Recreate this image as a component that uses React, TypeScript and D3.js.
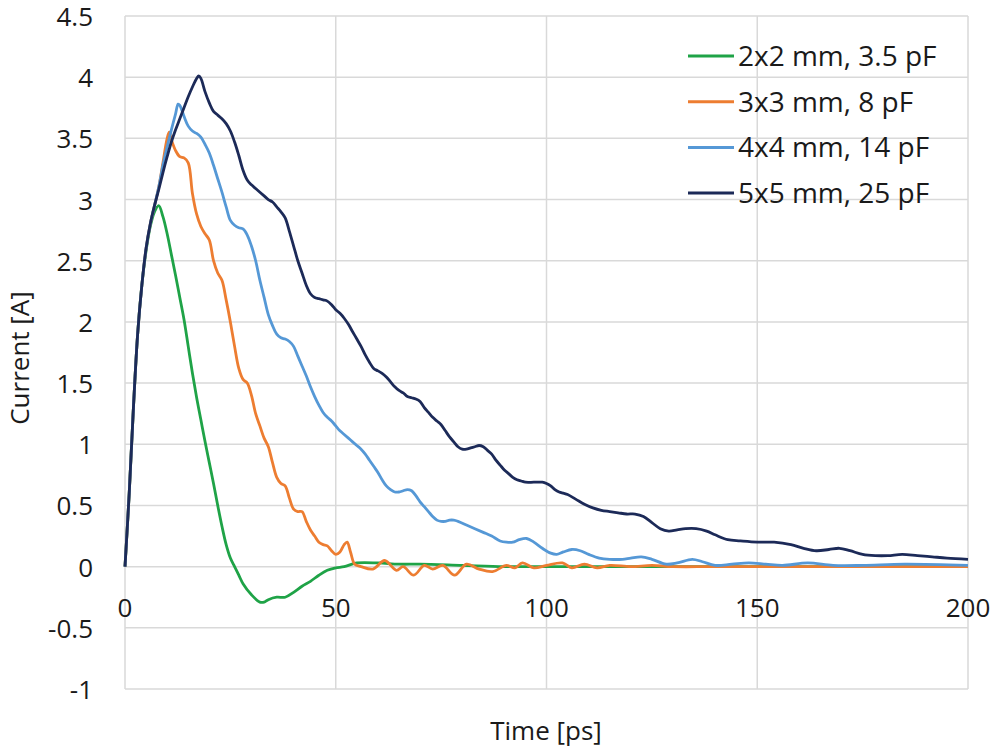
import React from "react";
import * as d3 from "d3";

const WIDTH = 1000;
const HEIGHT = 750;
const PLOT = { left: 125, right: 968, top: 16, bottom: 689 };

const X_TICKS = [0, 50, 100, 150, 200];
const Y_TICKS = [-1, -0.5, 0, 0.5, 1, 1.5, 2, 2.5, 3, 3.5, 4, 4.5];

const SERIES_NAMES = [
  "2x2 mm, 3.5 pF",
  "3x3 mm, 8 pF",
  "4x4 mm, 14 pF",
  "5x5 mm, 25 pF",
];
const SERIES_COLORS = ["#1fa347", "#ed7d31", "#5598d6", "#1c2a58"];

// [time ps, current A]
const green: [number, number][] = [
  [0, 0], [1, 0.6], [2, 1.3], [3, 1.9], [4, 2.3], [5, 2.58], [6, 2.78], [7, 2.9],
  [8, 2.95], [9, 2.86], [10, 2.72], [11, 2.55], [12, 2.38], [13, 2.2], [14, 2.02],
  [15, 1.8], [16, 1.58], [17, 1.38], [18, 1.2], [19, 1.02], [20, 0.85], [21, 0.68],
  [22, 0.5], [23, 0.33], [24, 0.18], [25, 0.07], [26, 0], [27, -0.07], [28, -0.14],
  [30, -0.23], [32, -0.29], [33, -0.29], [34, -0.27], [36, -0.25], [38, -0.25],
  [40, -0.21], [42, -0.16], [44, -0.12], [46, -0.07], [48, -0.03], [50, -0.01],
  [52, 0], [55, 0.03], [60, 0.03], [65, 0.02], [70, 0.02], [80, 0.01], [90, 0],
  [100, 0], [120, 0], [150, 0], [200, 0],
];

const orange: [number, number][] = [
  [0, 0], [1, 0.6], [2, 1.3], [3, 1.9], [4, 2.3], [5, 2.6], [6, 2.8], [7, 2.95],
  [8, 3.1], [9, 3.3], [10, 3.5], [10.5, 3.55], [11, 3.49], [12, 3.4], [13, 3.35],
  [14, 3.34], [15, 3.3], [16, 3.05], [17, 2.88], [18, 2.78], [19, 2.72], [20, 2.67],
  [21, 2.5], [22, 2.4], [23, 2.34], [24, 2.18], [25, 2.0], [26, 1.8], [27, 1.62],
  [28, 1.53], [29, 1.5], [30, 1.4], [31, 1.25], [32, 1.15], [33, 1.05], [34, 0.98],
  [35, 0.85], [36, 0.73], [37, 0.68], [38, 0.66], [39, 0.56], [40, 0.47], [41, 0.45],
  [42, 0.45], [43, 0.37], [44, 0.3], [45, 0.25], [46, 0.2], [47, 0.18], [48, 0.17],
  [49, 0.13], [50, 0.1], [51, 0.12], [52, 0.18], [52.7, 0.2], [53.5, 0.12],
  [54.5, 0.02], [56, 0], [58.8, -0.02], [61.6, 0.05], [64.4, -0.03], [66, 0],
  [68.5, -0.07], [71, 0.01], [73, -0.02], [75.4, 0.01], [78.2, -0.07], [81, 0.02],
  [84, -0.02], [87.2, -0.04], [90.5, 0.01], [92.5, -0.01], [94.3, 0.03], [97, -0.01],
  [100, 0.01], [103.8, 0.03], [106, -0.01], [109, 0.02], [112, -0.01], [115, 0.01],
  [120, 0], [125, 0.01], [130, 0], [140, 0], [170, 0], [200, 0],
];

const blue: [number, number][] = [
  [0, 0], [1, 0.6], [2, 1.3], [3, 1.9], [4, 2.3], [5, 2.6], [6, 2.8], [7, 2.95],
  [8, 3.1], [9, 3.28], [10, 3.43], [11, 3.57], [12, 3.7], [12.6, 3.78], [13, 3.77],
  [14, 3.68], [15, 3.6], [16, 3.56], [17, 3.54], [18, 3.51], [19, 3.45], [20, 3.38],
  [21, 3.28], [22, 3.17], [23, 3.06], [24, 2.94], [25, 2.83], [26, 2.79], [27, 2.77],
  [28, 2.76], [29, 2.71], [30, 2.62], [31, 2.5], [32, 2.34], [33, 2.2], [34, 2.06],
  [35, 1.97], [36, 1.9], [37, 1.87], [38, 1.86], [39, 1.84], [40, 1.8], [41, 1.72],
  [42, 1.64], [43, 1.56], [44, 1.47], [45, 1.39], [46, 1.32], [47, 1.26], [48, 1.22],
  [49, 1.19], [50, 1.15], [51, 1.11], [52, 1.08], [53, 1.05], [54, 1.02], [55, 0.99],
  [56, 0.96], [57, 0.92], [58, 0.87], [59, 0.82], [60, 0.77], [61, 0.71], [62, 0.66],
  [63, 0.63], [64, 0.61], [65, 0.61], [66, 0.62], [67, 0.63], [68, 0.62], [69, 0.58],
  [70, 0.53], [71, 0.49], [72, 0.45], [73, 0.41], [74, 0.38], [75, 0.37], [76, 0.37],
  [77, 0.38], [78, 0.38], [79, 0.37], [81, 0.34], [83, 0.31], [85, 0.28], [87, 0.25],
  [89, 0.21], [90.5, 0.2], [92, 0.2], [93.5, 0.22], [95.3, 0.23], [97, 0.2], [99, 0.15],
  [101, 0.11], [102.4, 0.1], [104, 0.12], [106, 0.14], [108, 0.13], [110, 0.1],
  [112.5, 0.07], [115, 0.06], [118, 0.06], [120, 0.07], [122.5, 0.08], [125, 0.06],
  [128.4, 0.02], [131, 0.03], [134.6, 0.06], [137, 0.04], [140, 0.01], [144, 0.02],
  [148, 0.03], [152, 0.02], [156, 0.01], [162, 0.03], [168, 0.01], [175, 0.01],
  [185, 0.02], [200, 0.01],
];

const navy: [number, number][] = [
  [0, 0], [1, 0.6], [2, 1.3], [3, 1.9], [4, 2.3], [5, 2.6], [6, 2.8], [7, 2.95],
  [8, 3.08], [9, 3.22], [10, 3.35], [11, 3.47], [12, 3.57], [13, 3.66], [14, 3.75],
  [15, 3.84], [16, 3.92], [17, 3.99], [17.5, 4.01], [18, 3.99], [19, 3.88], [20, 3.79],
  [21, 3.72], [22, 3.69], [23, 3.66], [24, 3.62], [25, 3.56], [26, 3.47], [27, 3.36],
  [28, 3.24], [29, 3.16], [30, 3.12], [31, 3.09], [32, 3.06], [33, 3.03], [34, 3.0],
  [35, 2.98], [36, 2.94], [37, 2.9], [38, 2.85], [39, 2.74], [40, 2.62], [41, 2.5],
  [42, 2.4], [43, 2.3], [44, 2.23], [45, 2.2], [46, 2.19], [47, 2.18], [48, 2.17],
  [49, 2.14], [50, 2.1], [51, 2.07], [52, 2.03], [53, 1.98], [54, 1.92], [55, 1.86],
  [56, 1.8], [57, 1.73], [58, 1.67], [59, 1.62], [60, 1.6], [61, 1.58], [62, 1.55],
  [63, 1.51], [64, 1.47], [65, 1.44], [66, 1.42], [67, 1.39], [68, 1.38], [69, 1.37],
  [70, 1.35], [71, 1.3], [72, 1.26], [73, 1.22], [74, 1.19], [75, 1.16], [76, 1.11],
  [77, 1.06], [78, 1.02], [79, 0.98], [80, 0.96], [81, 0.96], [82, 0.97], [83, 0.98],
  [84, 0.99], [85, 0.98], [86, 0.95], [87, 0.92], [88, 0.87], [89, 0.83], [90, 0.79],
  [91, 0.76], [92, 0.73], [93, 0.71], [94, 0.7], [95, 0.69], [97, 0.69], [99, 0.69],
  [100, 0.68], [101, 0.66], [102, 0.63], [103, 0.61], [104, 0.6], [105, 0.59],
  [107, 0.55], [109, 0.51], [111, 0.48], [113, 0.46], [115, 0.45], [117, 0.44],
  [119, 0.43], [121, 0.43], [123, 0.41], [125, 0.36], [127, 0.31], [129, 0.29],
  [131, 0.3], [133, 0.31], [135.5, 0.31], [138, 0.29], [140, 0.26], [143, 0.22],
  [146, 0.21], [150, 0.2], [154, 0.2], [158, 0.18], [161, 0.15], [164, 0.13],
  [167, 0.14], [169.5, 0.15], [172, 0.13], [175, 0.1], [178, 0.09], [181, 0.09],
  [184.4, 0.1], [188, 0.09], [191.5, 0.08], [195, 0.07], [200, 0.06],
];

const SERIES = [green, orange, blue, navy];

const FONT = "'Open Sans', 'Noto Sans', sans-serif";

const App = () => {
  const ref = React.useRef<SVGSVGElement>(null);

  React.useEffect(() => {
    const svg = d3.select(ref.current!);
    svg.selectAll("*").remove();

    const x = d3.scaleLinear().domain([0, 200]).range([PLOT.left, PLOT.right]);
    const y = d3.scaleLinear().domain([-1, 4.5]).range([PLOT.bottom, PLOT.top]);

    const grid = svg.append("g").attr("class", "grid");
    grid
      .selectAll("line.h")
      .data(Y_TICKS)
      .enter()
      .append("line")
      .attr("x1", PLOT.left)
      .attr("x2", PLOT.right)
      .attr("y1", (d) => y(d))
      .attr("y2", (d) => y(d))
      .attr("stroke", "#d9d9d9")
      .attr("stroke-width", 1.5);
    grid
      .selectAll("line.v")
      .data(X_TICKS)
      .enter()
      .append("line")
      .attr("x1", (d) => x(d))
      .attr("x2", (d) => x(d))
      .attr("y1", PLOT.top)
      .attr("y2", PLOT.bottom)
      .attr("stroke", "#d9d9d9")
      .attr("stroke-width", 1.5);

    // y tick labels
    svg
      .append("g")
      .selectAll("text")
      .data(Y_TICKS)
      .enter()
      .append("text")
      .attr("x", 93)
      .attr("y", (d) => y(d) + 10)
      .attr("text-anchor", "end")
      .attr("font-family", FONT)
      .attr("font-size", 26)
      .attr("fill", "#1a1a1a")
      .text((d) => String(d));

    // x tick labels sit under the zero line
    svg
      .append("g")
      .selectAll("text")
      .data(X_TICKS)
      .enter()
      .append("text")
      .attr("x", (d) => x(d))
      .attr("y", y(0) + 50)
      .attr("text-anchor", "middle")
      .attr("font-family", FONT)
      .attr("font-size", 26)
      .attr("fill", "#1a1a1a")
      .text((d) => String(d));

    svg
      .append("text")
      .attr("x", 546)
      .attr("y", 740)
      .attr("text-anchor", "middle")
      .attr("font-family", FONT)
      .attr("font-size", 26)
      .attr("fill", "#1a1a1a")
      .text("Time [ps]");

    svg
      .append("text")
      .attr("transform", `translate(29, 358) rotate(-90)`)
      .attr("text-anchor", "middle")
      .attr("font-family", FONT)
      .attr("font-size", 26)
      .attr("fill", "#1a1a1a")
      .text("Current [A]");

    const line = d3
      .line<[number, number]>()
      .x((d) => x(d[0]))
      .y((d) => y(d[1]))
      .curve(d3.curveCatmullRom.alpha(0.5));

    svg
      .append("g")
      .selectAll("path")
      .data(SERIES)
      .enter()
      .append("path")
      .attr("d", (d) => line(d)!)
      .attr("fill", "none")
      .attr("stroke", (_, i) => SERIES_COLORS[i])
      .attr("stroke-width", 2.8)
      .attr("stroke-linejoin", "round");

    const legend = svg.append("g").attr("transform", "translate(688, 56)");
    const rows = legend
      .selectAll("g")
      .data(SERIES_NAMES)
      .enter()
      .append("g")
      .attr("transform", (_, i) => `translate(0, ${i * 45.7})`);
    rows
      .append("line")
      .attr("x1", 0)
      .attr("x2", 46)
      .attr("stroke", (_, i) => SERIES_COLORS[i])
      .attr("stroke-width", 3);
    rows
      .append("text")
      .attr("x", 50)
      .attr("y", 10)
      .attr("font-family", FONT)
      .attr("font-size", 28)
      .attr("fill", "#1a1a1a")
      .text((d) => d);
  }, []);

  return (
    <svg
      ref={ref}
      width={WIDTH}
      height={HEIGHT}
      style={{ position: "absolute", left: 0, top: 0, background: "#fff" }}
    />
  );
};

export default App;
